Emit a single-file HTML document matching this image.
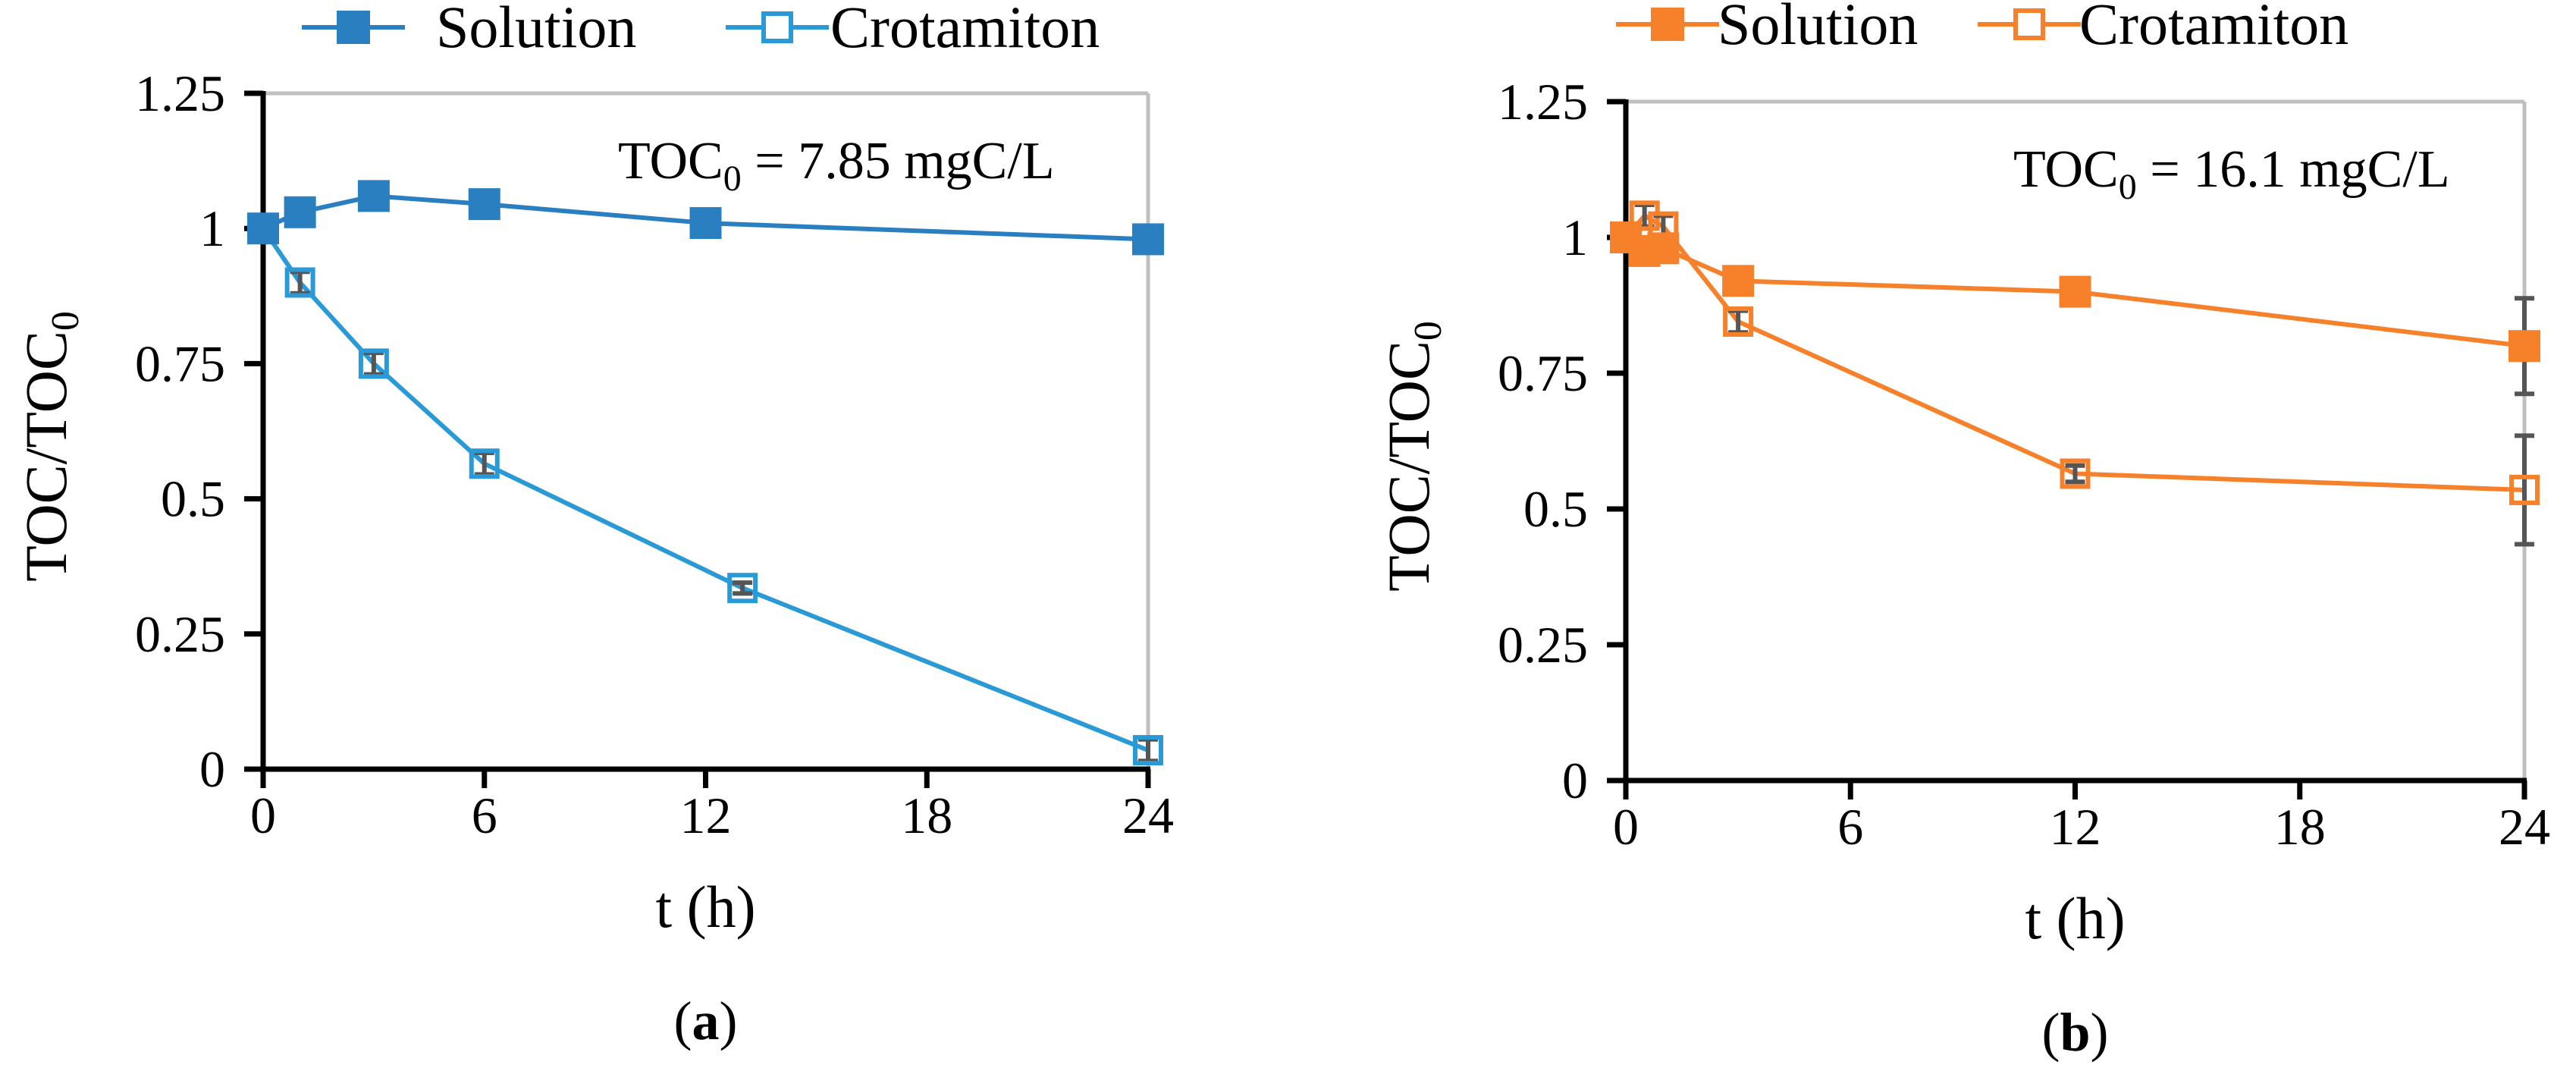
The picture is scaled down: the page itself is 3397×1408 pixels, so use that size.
<!DOCTYPE html>
<html><head><meta charset="utf-8"><style>
html,body{margin:0;padding:0;background:#fff;}
svg{display:block;font-family:"Liberation Serif",serif;}
</style></head><body>
<svg id="s" width="3397" height="1408" viewBox="0 0 3397 1408"></svg>
<script>
const xTicks=[0,6,12,18,24];
const yTicks=[0,0.25,0.5,0.75,1,1.25];
const yTickLabels=["0","0.25","0.5","0.75","1","1.25"];
const aSolT=[0,1,3,6,12,24];
const aSolV=[1,1.03,1.06,1.045,1.01,0.98];
const aSolE=[0,0,0,0,0,0];
const aCroT=[0,1,3,6,13,24];
const aCroV=[1,0.9,0.75,0.565,0.335,0.035];
const aCroE=[0,0.02,0.02,0.02,0.01,0.02];
const bSolT=[0,0.5,1,3,12,24];
const bSolV=[1,0.975,0.98,0.92,0.9,0.80];
const bSolE=[0,0,0.02,0,0,0.088];
const bCroT=[0,0.5,1,3,12,24];
const bCroV=[1,1.04,1.02,0.845,0.565,0.535];
const bCroE=[0,0.02,0.02,0.02,0.015,0.1];
const NS="http://www.w3.org/2000/svg";
const svg=document.getElementById('s');
function mk(t,a,p){const e=document.createElementNS(NS,t);for(const k in a)e.setAttribute(k,a[k]);(p||svg).appendChild(e);return e;}
function panel(cfg){
  const g=mk('g',{});
  
  
  const X=t=>cfg.x0+(cfg.x1-cfg.x0)*t/24;
  const Y=v=>cfg.y0+(cfg.y1-cfg.y0)*v/1.25;
  mk('line',{x1:cfg.x0,y1:Y(1.25),x2:cfg.x1,y2:Y(1.25),stroke:'#bfbfbf','stroke-width':5},g);
  mk('line',{x1:cfg.x1,y1:Y(1.25),x2:cfg.x1,y2:cfg.y0,stroke:'#bfbfbf','stroke-width':5},g);
  const ya=mk('line',{x1:cfg.x0,y1:Y(1.25)-3,x2:cfg.x0,y2:cfg.y0+3,stroke:'#000','stroke-width':7},g);
  
  const xa=mk('line',{x1:cfg.x0-25,y1:cfg.y0,x2:cfg.x1+3,y2:cfg.y0,stroke:'#000','stroke-width':7},g);
  
  yTicks.forEach((v,i)=>{
    mk('line',{x1:cfg.x0-25,y1:Y(v),x2:cfg.x0,y2:Y(v),stroke:'#000','stroke-width':7},g);
    const t=mk('text',{x:cfg.x0-50,y:Y(v)+23,'text-anchor':'end','font-size':68},g);
    t.textContent=yTickLabels[i];
    
  });
  xTicks.forEach(v=>{
    mk('line',{x1:X(v),y1:cfg.y0,x2:X(v),y2:cfg.y0+25,stroke:'#000','stroke-width':7},g);
    const t=mk('text',{x:X(v),y:cfg.y0+84,'text-anchor':'middle','font-size':68},g);
    t.textContent=v;
    
  });
  const xt=mk('text',{x:(cfg.x0+cfg.x1)/2,y:cfg.y0+208,'text-anchor':'middle','font-size':78},g);
  xt.textContent='t (h)';
  const yt=mk('text',{transform:`translate(${cfg.x0-260},${(cfg.y0+Y(1.25))/2+20}) rotate(-90)`,'text-anchor':'middle','font-size':78},g);
  yt.innerHTML='TOC/TOC<tspan font-size="52" dy="16">0</tspan>';
  
  const an=mk('text',{x:cfg.annX,y:Y(1.25)+112,'font-size':70},g);
  an.innerHTML='TOC<tspan font-size="48" dy="16">0</tspan><tspan dy="-16"> = '+cfg.ann+'</tspan>';
  
  const lb=mk('text',{x:(cfg.x0+cfg.x1)/2,y:cfg.y0+356,'text-anchor':'middle','font-size':72},g);
  lb.innerHTML='(<tspan font-weight="bold">'+cfg.label+'</tspan>)';
  
  function series(T,V,E,filled,name){
    const sg=mk('g',{},g);
    
    mk('polyline',{points:T.map((t,i)=>X(t)+','+Y(V[i])).join(' '),fill:'none',stroke:filled?cfg.c1:cfg.c2,'stroke-width':6},sg);
    T.forEach((t,i)=>{
      if(E[i]>0){
        const x=X(t);
        mk('line',{x1:x,y1:Y(V[i]-E[i]),x2:x,y2:Y(V[i]+E[i]),stroke:'#555','stroke-width':6},sg);
        mk('line',{x1:x-13,y1:Y(V[i]-E[i]),x2:x+13,y2:Y(V[i]-E[i]),stroke:'#555','stroke-width':6},sg);
        mk('line',{x1:x-13,y1:Y(V[i]+E[i]),x2:x+13,y2:Y(V[i]+E[i]),stroke:'#555','stroke-width':6},sg);
      }
      const m=filled?mk('rect',{x:X(t)-21,y:Y(V[i])-21,width:42,height:42,fill:cfg.c1},sg)
        :mk('rect',{x:X(t)-17,y:Y(V[i])-17,width:34,height:34,fill:'none',stroke:cfg.c2,'stroke-width':6},sg);
      
    });
  }
  series(cfg.cT,cfg.cV,cfg.cE,false,'crotamiton-series');
  series(cfg.sT,cfg.sV,cfg.sE,true,'solution-series');
  const L=cfg.leg;
  const l1=mk('g',{},g);
  mk('line',{x1:L[0]-68,y1:L[4],x2:L[0]+68,y2:L[4],stroke:cfg.c1,'stroke-width':6},l1);
  mk('rect',{x:L[0]-22,y:L[4]-22,width:44,height:44,fill:cfg.c1},l1);
  const s1=mk('text',{x:L[1],y:L[4]+26,'font-size':78},l1);s1.textContent='Solution';
  const l2=mk('g',{},g);
  mk('line',{x1:L[2]-68,y1:L[4],x2:L[2]+68,y2:L[4],stroke:cfg.c2,'stroke-width':6},l2);
  mk('rect',{x:L[2]-18,y:L[4]-18,width:36,height:36,fill:'#fff',stroke:cfg.c2,'stroke-width':6},l2);
  const s2=mk('text',{x:L[3],y:L[4]+26,'font-size':78},l2);s2.textContent='Crotamiton';
}
panel({name:'panel-a',x0:347,x1:1514,y0:1014,y1:123,c1:'#2a7fc1',c2:'#2a9ad6',annX:815,ann:'7.85 mgC/L',label:'a',
  sT:aSolT,sV:aSolV,sE:aSolE,cT:aCroT,cV:aCroV,cE:aCroE,leg:[466,575,1025,1095,36]});
panel({name:'panel-b',x0:2144,x1:3329,y0:1029,y1:134,c1:'#f7802a',c2:'#f7802a',annX:2655,ann:'16.1 mgC/L',label:'b',
  sT:bSolT,sV:bSolV,sE:bSolE,cT:bCroT,cV:bCroV,cE:bCroE,leg:[2199,2265,2676,2742,32]});
</script>
</body></html>
